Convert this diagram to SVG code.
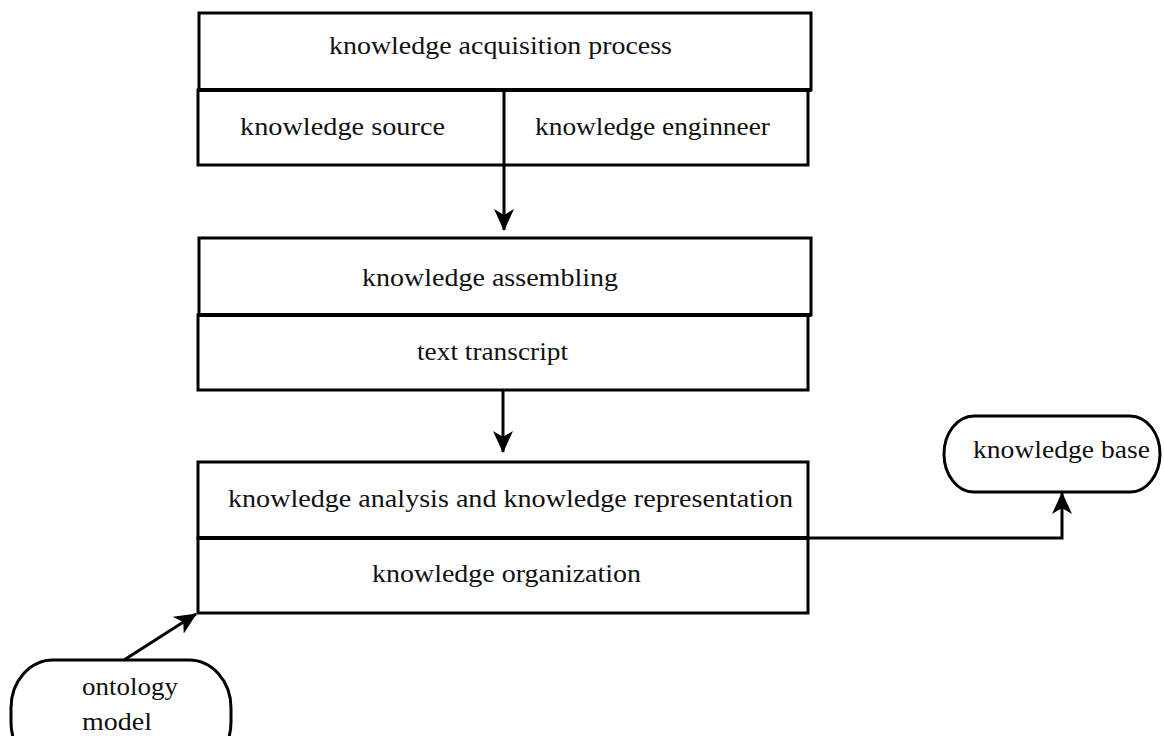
<svg xmlns="http://www.w3.org/2000/svg" width="1164" height="736" viewBox="0 0 1164 736">
<style>
.box{fill:#fff;stroke:#000;stroke-width:3}
.div{stroke:#000;stroke-width:4}
.t{font-family:"Liberation Serif","Times New Roman",serif;font-size:26px;fill:#111}
.c{stroke:#000;stroke-width:3;fill:none}
</style>
<defs>
<marker id="ah" viewBox="0 0 22 20" refX="21" refY="10" markerWidth="22" markerHeight="20" markerUnits="userSpaceOnUse" orient="auto">
<path d="M0,0 L22,10 L0,20 L6,10 z" fill="#000"/>
</marker>
</defs>
<rect width="1164" height="736" fill="#fff"/>
<g id="acquisition">
<rect class="box" x="199" y="13" width="612" height="77"/>
<rect class="box" x="198" y="90" width="610" height="75"/>
<line class="div" x1="198" y1="90" x2="811" y2="90"/>
<text class="t" x="329" y="54" textLength="343" lengthAdjust="spacingAndGlyphs">knowledge acquisition process</text>
<text class="t" x="240" y="135" textLength="205" lengthAdjust="spacingAndGlyphs">knowledge source</text>
<text class="t" x="535" y="135" textLength="235" lengthAdjust="spacingAndGlyphs">knowledge enginneer</text>
</g>
<g id="assembling">
<rect class="box" x="199" y="238" width="612" height="77"/>
<rect class="box" x="198" y="315" width="610" height="75"/>
<line class="div" x1="198" y1="315" x2="811" y2="315"/>
<text class="t" x="362" y="286" textLength="256" lengthAdjust="spacingAndGlyphs">knowledge assembling</text>
<text class="t" x="417" y="360" textLength="151" lengthAdjust="spacingAndGlyphs">text transcript</text>
</g>
<g id="analysis">
<rect class="box" x="198" y="462" width="610" height="76"/>
<rect class="box" x="198" y="538" width="610" height="75"/>
<line class="div" x1="198" y1="538" x2="808" y2="538"/>
<text class="t" x="228" y="507" textLength="565" lengthAdjust="spacingAndGlyphs">knowledge analysis and knowledge representation</text>
<text class="t" x="372" y="582" textLength="269" lengthAdjust="spacingAndGlyphs">knowledge organization</text>
</g>
<g id="kbase">
<rect class="box" x="944" y="416" width="216" height="76" rx="30" ry="38"/>
<text class="t" x="973" y="458" textLength="177" lengthAdjust="spacingAndGlyphs">knowledge base</text>
</g>
<g id="ontology">
<rect class="box" x="11" y="660" width="220" height="110" rx="42" ry="48"/>
<text class="t" x="82" y="695" textLength="96" lengthAdjust="spacingAndGlyphs">ontology</text>
<text class="t" x="82" y="730" textLength="70" lengthAdjust="spacingAndGlyphs">model</text>
</g>
<g id="connectors">
<line class="c" x1="504" y1="90" x2="504" y2="230" marker-end="url(#ah)"/>
<line class="c" x1="503" y1="390" x2="503" y2="452" marker-end="url(#ah)"/>
<polyline class="c" points="808,538 1062,538 1062,493" marker-end="url(#ah)"/>
<line class="c" x1="124" y1="660" x2="196" y2="614" marker-end="url(#ah)"/>
</g>
</svg>
